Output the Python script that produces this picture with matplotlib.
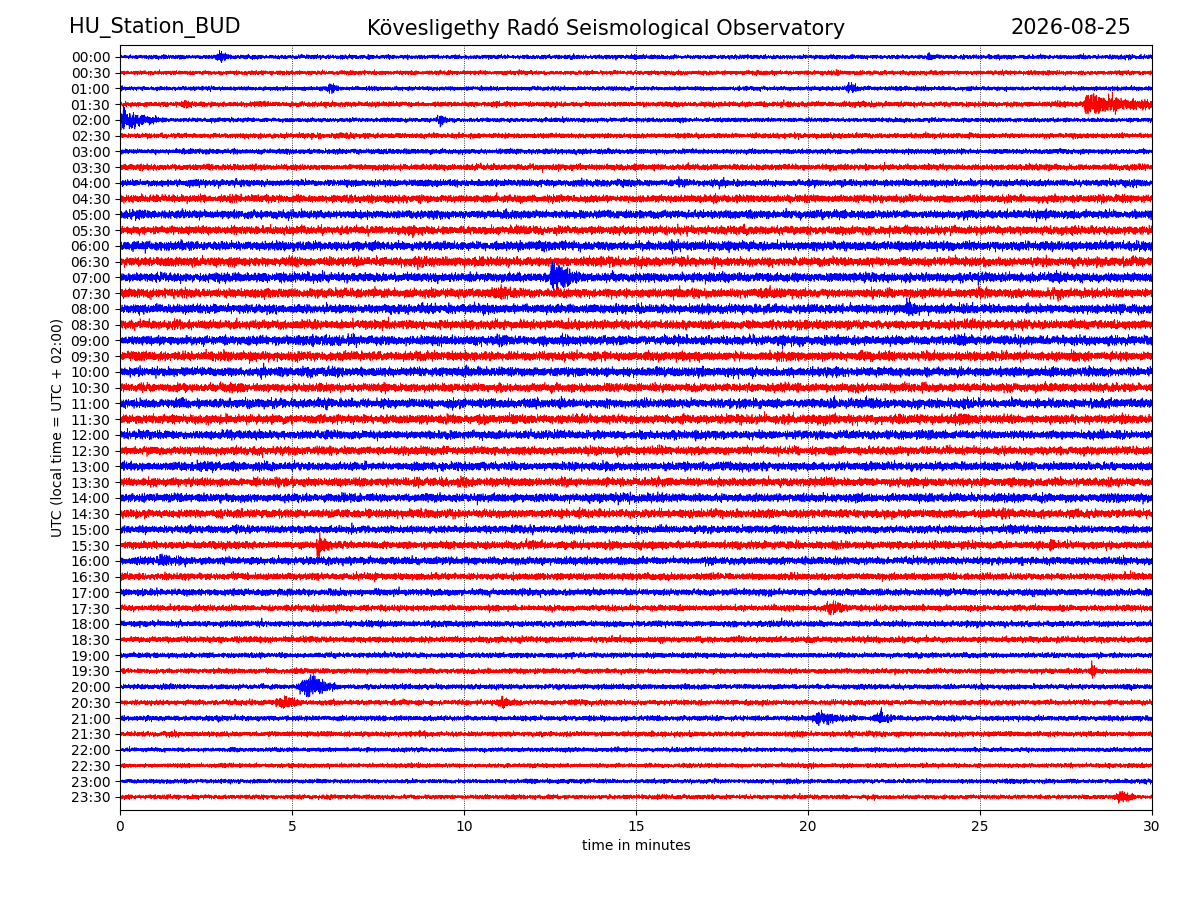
import numpy as np
import matplotlib
matplotlib.use("Agg")
import matplotlib.pyplot as plt

# ------------------ DATA ------------------
station = "HU_Station_BUD"
observatory = "Kövesligethy Radó Seismological Observatory"
day = "2026-08-25"

row_labels = ["%02d:%02d" % (h, m) for h in range(24) for m in (0, 30)]

# visual width of the background noise band per row (row spacing = 16)
noise_width = [5, 5, 5, 6, 5, 6, 6, 7, 8, 9, 10, 10, 11, 11, 11, 11,
               11, 11, 11, 11, 11, 10, 11, 11, 10, 10, 10, 10, 10, 10, 9, 9,
               9, 8, 8, 7, 7, 7, 6, 6, 6, 6, 6, 6, 5, 5, 5, 5]

# events: row index, start minute, peak size, rise and duration (min)
event_row = [0, 0, 2, 2, 3, 3, 4, 4, 14, 16, 18, 31, 31, 32, 35, 39, 40, 41, 41, 42, 42, 47]
event_min = [2.7, 23.4, 5.9, 21.0, 1.6, 28.0, 0.0, 9.1, 12.5, 22.8, 19.2, 5.7, 27.0, 0.9, 20.3, 28.2, 5.0, 4.4, 10.8, 19.8, 21.7, 28.8]
event_amp = [6, 5, 6, 6, 5, 12, 12, 6, 17, 11, 8, 14, 10, 8, 8, 11, 12, 8, 7, 8, 7, 7]
event_rise = [0.2, 0.1, 0.2, 0.2, 0.3, 0.05, 0.03, 0.2, 0.03, 0.1, 0.05, 0.03, 0.03, 0.3, 0.4, 0.03, 0.5, 0.3, 0.3, 0.6, 0.4, 0.3]
event_dur = [0.8, 0.6, 0.6, 0.8, 1.0, 4.0, 1.6, 0.6, 1.6, 0.9, 0.5, 0.8, 0.4, 1.2, 1.2, 0.3, 1.2, 1.2, 1.0, 1.6, 1.0, 0.8]

colors = ["#0000ff", "#ff0000"]

# ------------------ TRACES ------------------
n_pts = 24000
t = np.linspace(0, 30, n_pts)
rng = np.random.default_rng(7)  # texture of the carrier only
kernel = np.ones(3) / 3
row_step = 16.0

fig = plt.figure(figsize=(12, 9), dpi=100)
ax = fig.add_axes([0.1, 0.1, 0.86, 0.85])

for i, lab in enumerate(row_labels):
    carrier = np.convolve(rng.standard_normal(n_pts), kernel, mode="same")
    slow = np.convolve(rng.standard_normal(n_pts), np.ones(400) / 400, mode="same")
    env = (noise_width[i] / 4.0) * (1 + 3.0 * np.abs(slow))
    for r, m0, a, rs, d in zip(event_row, event_min, event_amp, event_rise, event_dur):
        if r != i:
            continue
        rise = np.clip((t - m0) / rs, 0, 1)
        decay = np.exp(-np.clip(t - m0 - rs, 0, None) / (d / 2.0))
        env = np.maximum(env, (a / 1.5) * rise * decay)
    trace = carrier * env / row_step
    ax.plot(t, i + trace, color=colors[i % 2], lw=0.5)

ax.set_xlim(0, 30)
ax.set_ylim(len(row_labels) - 1 + 0.83, -0.76)
ax.set_yticks(range(len(row_labels)))
ax.set_yticklabels(row_labels)
ax.set_xticks(range(0, 31, 5))
ax.xaxis.grid(True, linestyle=":", color="black", lw=0.6)
ax.set_xlabel("time in minutes")
ax.set_ylabel("UTC (local time = UTC + 02:00)")

fig.text(0.0575, 0.969, station, fontsize=15, ha="left", va="center")
fig.text(0.505, 0.969, observatory, fontsize=15, ha="center", va="center")
fig.text(0.943, 0.969, day, fontsize=15, ha="right", va="center")

fig.savefig("out.png", dpi=100)
